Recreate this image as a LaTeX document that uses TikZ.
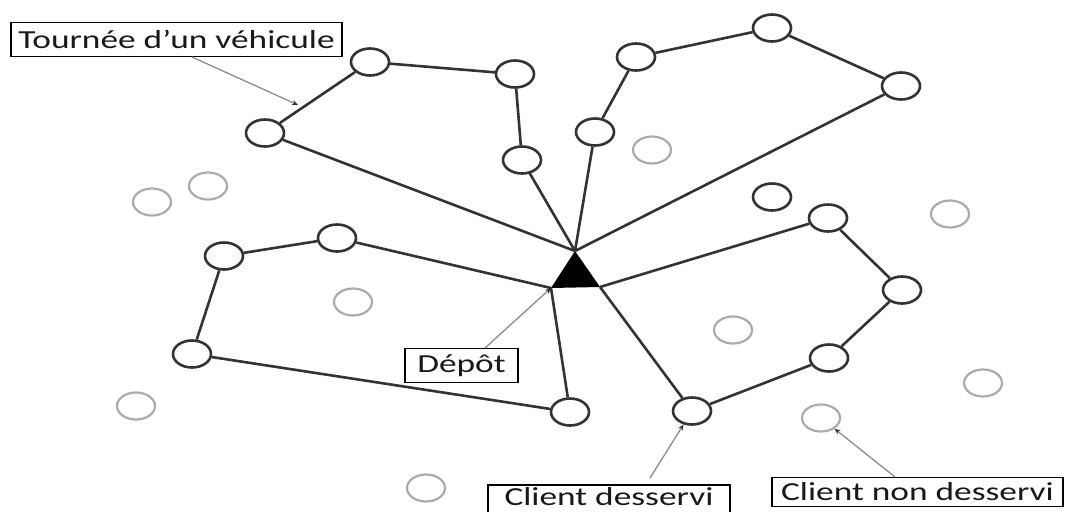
\documentclass[tikz,border=0pt]{standalone}
\usepackage{fontspec}
\setmainfont{Carlito}
\usetikzlibrary{shapes.geometric,arrows.meta}
\tikzset{
  served/.style={ellipse, draw=black!80, line width=2.6pt, minimum width=38pt, minimum height=27pt, inner sep=0pt},
  unserved/.style={ellipse, draw=black!33, line width=2.2pt, minimum width=38pt, minimum height=27pt, inner sep=0pt},
  route/.style={draw=black!80, line width=2.6pt},
  leader/.style={draw=black!45, line width=1.3pt, -{Stealth[length=6pt,width=5pt,color=black!80]}},
  boxline/.style={draw=black, line width=1.8pt},
  labeltext/.style={inner sep=0pt, font=\fontsize{26}{30}\selectfont, text=black!90},
  labelbox/.style={boxline, labeltext}
}
\newcommand{\wide}[1]{\scalebox{1.36}[1]{#1}}
\begin{document}
\begin{tikzpicture}[x=1pt,y=-1pt]
\useasboundingbox (0,0) rectangle (1067,511);
\clip (0,0) rectangle (1067,511);
\fill[white] (0,0) rectangle (1067,511);

% depot
\coordinate (apex) at (575,251);
\coordinate (bl) at (551,288);
\coordinate (br) at (600,287);
\fill[black] (apex) -- (bl) -- (br) -- cycle;

% tour 1
\node[served] (a1) at (265,133) {};
\node[served] (a2) at (370,62) {};
\node[served] (a3) at (515,74) {};
\node[served] (a4) at (522,160) {};
% tour 2
\node[served] (b1) at (595,132) {};
\node[served] (b2) at (636,57) {};
\node[served] (b3) at (772,28) {};
\node[served] (b4) at (901,86) {};
% tour 3
\node[served] (c1) at (337,238) {};
\node[served] (c2) at (224,256) {};
\node[served] (c3) at (192,354) {};
\node[served] (c4) at (570,412) {};
% tour 4
\node[served] (d1) at (828,218) {};
\node[served] (d2) at (902,290) {};
\node[served] (d3) at (829,358) {};
\node[served] (d4) at (692,411) {};
% lone dark circle
\node[served] (e1) at (772,197) {};

% unserved clients
\node[unserved] (u1) at (152,202) {};
\node[unserved] (u2) at (208,186) {};
\node[unserved] (u3) at (652,150) {};
\node[unserved] (u4) at (353,302) {};
\node[unserved] (u5) at (950,214) {};
\node[unserved] (u6) at (733,330) {};
\node[unserved] (u7) at (136,406) {};
\node[unserved] (u8) at (426,488) {};
\node[unserved] (u9) at (983,383) {};
\node[unserved] (u10) at (821,418) {};

% routes
\draw[route] (apex) -- (a1) -- (a2) -- (a3) -- (a4) -- (apex);
\draw[route] (apex) -- (b1) -- (b2) -- (b3) -- (b4) -- (apex);
\draw[route] (bl) -- (c1) -- (c2) -- (c3) -- (c4) -- (bl);
\draw[route] (br) -- (d1) -- (d2) -- (d3) -- (d4) -- (br);

% labels
\node[labelbox, minimum width=331pt, minimum height=34pt] (t1) at (176.5,39.5) {\wide{Tournée d’un véhicule}\hspace{10pt}};
\node[labelbox, minimum width=113pt, minimum height=34pt] (t2) at (461.5,365.5) {\wide{Dépôt}};
\node[labeltext] (t3) at (609,497) {\wide{Client desservi}};
\draw[boxline] (488,485) rectangle (730,518);
\node[labelbox, minimum width=291pt, minimum height=29pt] (t4) at (917.5,492) {\wide{Client non desservi}};

% leaders
\coordinate (s1) at (192,57);
\coordinate (e1l) at (298,105);
\coordinate (s2) at (485,348);
\coordinate (s3) at (650,478);
\coordinate (s4) at (895,477);
\draw[leader] (s1) -- (e1l);
\draw[leader] (s2) -- (bl);
\draw[leader] (s3) -- (d4);
\draw[leader] (s4) -- (u10);
\end{tikzpicture}
\end{document}
